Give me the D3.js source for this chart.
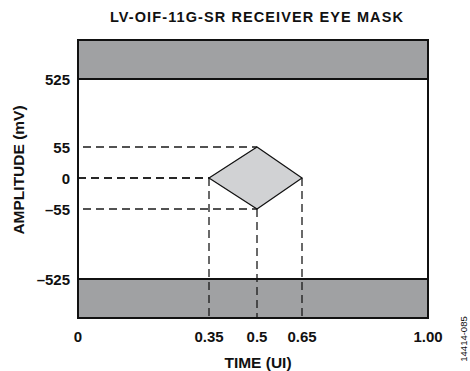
<!DOCTYPE html>
<html>
<head>
<meta charset="utf-8">
<script src="https://cdn.jsdelivr.net/npm/d3@7"></script>
<style>
  body { margin: 0; background: #fff; }
  text { font-family: Arial, "Liberation Sans", sans-serif; font-weight: bold; fill: #111; }
</style>
</head>
<body>
<div class="graph"></div>
<script>
// mask values
const maskTitle = 'LV-OIF-11G-SR RECEIVER EYE MASK';
const xTicks = [0, 0.35, 0.5, 0.65, 1.0];
const xTickLabels = ['0', '0.35', '0.5', '0.65', '1.00'];
const yTicks = [-525, -55, 0, 55, 525];
const yTickLabels = ['\u2013525', '\u201355', '0', '55', '525'];
const yLimits = [-800, 800];
// eye (diamond) points: time, amplitude
const eyeTime = [0.35, 0.5, 0.65, 0.5];
const eyeAmp = [0, 55, 0, -55];

const dim = { w: 470, h: 371 };
const svg = d3.select('.graph')
    .append('svg')
    .attr('width', dim.w)
    .attr('height', dim.h);

// schematic, not to scale -> piecewise scales
const xScale = d3.scaleLinear()
    .domain(xTicks)
    .range([78, 209, 257, 302, 428]);

const yScale = d3.scaleLinear()
    .domain([yLimits[0], ...yTicks, yLimits[1]])
    .range([318, 279, 209, 178, 147, 79, 40]);

const x0 = xScale(0), x1 = xScale(1);
const yTop = yScale(yLimits[1]), yBot = yScale(yLimits[0]);

// forbidden bands
svg.append('rect')
    .attr('x', x0).attr('y', yTop)
    .attr('width', x1 - x0).attr('height', yScale(525) - yTop)
    .attr('fill', '#a0a1a3');
svg.append('rect')
    .attr('x', x0).attr('y', yScale(-525))
    .attr('width', x1 - x0).attr('height', yBot - yScale(-525))
    .attr('fill', '#a0a1a3');

// dashed guides
const guides = svg.append('g')
    .attr('stroke', '#1a1a1a')
    .attr('stroke-width', 1.3)
    .attr('stroke-dasharray', '8,5')
    .attr('fill', 'none');

eyeTime.forEach((t, i) => {
    const a = eyeAmp[i];
    const startX = a === 0 ? x0 : x0 + 5;
    guides.append('line')
        .attr('x1', startX).attr('x2', xScale(t))
        .attr('y1', yScale(a)).attr('y2', yScale(a));
});
// vertical ones: left point, bottom point, right point
[0, 3, 2].forEach(i => {
    guides.append('line')
        .attr('x1', xScale(eyeTime[i])).attr('x2', xScale(eyeTime[i]))
        .attr('y1', yScale(eyeAmp[i])).attr('y2', yBot);
});

// eye diamond
const line = d3.line()
    .x(d => xScale(d[0]))
    .y(d => yScale(d[1]));
svg.append('path')
    .datum(eyeTime.map((t, i) => [t, eyeAmp[i]]))
    .attr('d', d => line(d) + 'Z')
    .attr('fill', '#d1d2d4')
    .attr('stroke', '#111')
    .attr('stroke-width', 1.2);

// band edges + frame
svg.append('g').selectAll('line')
    .data([525, -525])
    .enter()
    .append('line')
    .attr('x1', x0).attr('x2', x1)
    .attr('y1', d => yScale(d)).attr('y2', d => yScale(d))
    .attr('stroke', '#111')
    .attr('stroke-width', 2);

svg.append('rect')
    .attr('x', x0).attr('y', yTop)
    .attr('width', x1 - x0).attr('height', yBot - yTop)
    .attr('fill', 'none')
    .attr('stroke', '#111')
    .attr('stroke-width', 2);

// tick labels
svg.append('g').selectAll('text')
    .data(xTicks)
    .enter()
    .append('text')
    .attr('x', d => xScale(d))
    .attr('y', 342)
    .attr('text-anchor', 'middle')
    .style('font-size', '15px')
    .text((d, i) => xTickLabels[i]);

svg.append('g').selectAll('text')
    .data(yTicks)
    .enter()
    .append('text')
    .attr('x', 70)
    .attr('y', d => yScale(d) + 5.5)
    .attr('text-anchor', 'end')
    .style('font-size', '15px')
    .text((d, i) => yTickLabels[i]);

// titles
svg.append('text')
    .attr('x', 257).attr('y', 22)
    .attr('text-anchor', 'middle')
    .style('font-size', '14.5px')
    .style('letter-spacing', '1.1px')
    .text(maskTitle);

svg.append('text')
    .attr('x', 258).attr('y', 368)
    .attr('text-anchor', 'middle')
    .style('font-size', '15.5px')
    .text('TIME (UI)');

svg.append('text')
    .attr('transform', 'translate(24,170) rotate(-90)')
    .attr('text-anchor', 'middle')
    .style('font-size', '15.5px')
    .text('AMPLITUDE (mV)');

svg.append('text')
    .attr('transform', 'translate(467,339) rotate(-90)')
    .attr('text-anchor', 'middle')
    .style('font-size', '9.5px')
    .style('font-weight', 'normal')
    .text('14414-085');
</script>
</body>
</html>
